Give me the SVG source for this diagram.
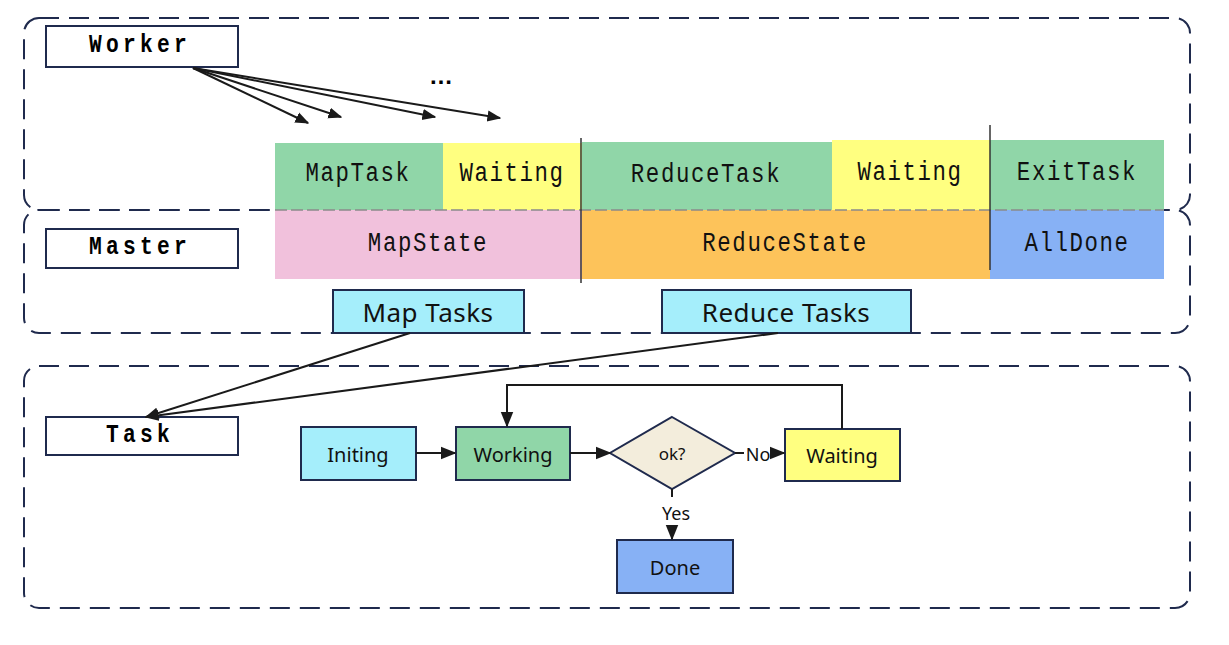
<svg xmlns="http://www.w3.org/2000/svg" width="1229" height="645" viewBox="0 0 1229 645">
<defs>
<style>
.cont{fill:none;stroke:#1f2a4d;stroke-width:2;stroke-dasharray:20 10}
.lbl{fill:#fff;stroke:#1f2a4d;stroke-width:2}
.lt{font-family:"Liberation Mono",monospace;font-weight:bold;font-size:25px;letter-spacing:5px;fill:#000;text-anchor:middle;dominant-baseline:central}
.bt{font-family:"Liberation Mono",monospace;font-size:28px;letter-spacing:2px;fill:#111;text-anchor:middle;dominant-baseline:central}
.ft{font-family:"Noto Sans","Open Sans",sans-serif;font-size:20px;fill:#111;text-anchor:middle;dominant-baseline:central}
.nd{stroke:#1f2a4d;stroke-width:2}
.cn{fill:none;stroke:#1a1a1a;stroke-width:2}
.vl{stroke:#333;stroke-width:1.5}
</style>
<marker id="ah" viewBox="0 0 10 10" refX="9" refY="5" markerWidth="14" markerHeight="14" markerUnits="userSpaceOnUse" orient="auto">
<path d="M0,1 L10,5 L0,9 z" fill="#1a1a1a"/>
</marker>
<marker id="ah2" viewBox="0 0 10 10" refX="9" refY="5" markerWidth="16" markerHeight="16" markerUnits="userSpaceOnUse" orient="auto">
<path d="M0,1 L10,5 L0,9 z" fill="#1a1a1a"/>
</marker>
</defs>
<rect width="1229" height="645" fill="#fff"/>

<g id="containers">
<rect class="cont" x="24" y="18" width="1166" height="192" rx="15"/>
<rect class="cont" x="24" y="210" width="1166" height="123" rx="15"/>
<rect class="cont" x="24" y="366" width="1166" height="242" rx="15"/>
</g>

<g id="worker"><rect class="lbl" x="46" y="26" width="192" height="41"/><text class="lt" transform="matrix(0.85,0,0,1,140,46)">Worker</text></g>
<g id="master"><rect class="lbl" x="46" y="229" width="192" height="39"/><text class="lt" transform="matrix(0.85,0,0,1,140,248)">Master</text></g>
<g id="task"><rect class="lbl" x="46" y="417" width="192" height="38"/><text class="lt" transform="matrix(0.85,0,0,1,140,436)">Task</text></g>

<g id="maptask"><rect x="275" y="143" width="168" height="67" fill="#90d6a8"/><text class="bt" transform="matrix(0.8,0,0,1,358,174)">MapTask</text></g>
<g id="waiting1"><rect x="443" y="143" width="139" height="67" fill="#ffff80"/><text class="bt" transform="matrix(0.8,0,0,1,512,174)">Waiting</text></g>
<g id="reducetask"><rect x="582" y="142" width="250" height="68" fill="#90d6a8"/><text class="bt" transform="matrix(0.8,0,0,1,706,175)">ReduceTask</text></g>
<g id="waiting2"><rect x="832" y="140" width="158" height="70" fill="#ffff80"/><text class="bt" transform="matrix(0.8,0,0,1,910,173)">Waiting</text></g>
<g id="exittask"><rect x="990" y="140" width="174" height="70" fill="#90d6a8"/><text class="bt" transform="matrix(0.8,0,0,1,1077,173)">ExitTask</text></g>

<g id="mapstate"><rect x="275" y="210" width="307" height="69" fill="#f1c1dc"/><text class="bt" transform="matrix(0.8,0,0,1,428,244)">MapState</text></g>
<g id="reducestate"><rect x="582" y="210" width="408" height="69" fill="#fdc35a"/><text class="bt" transform="matrix(0.8,0,0,1,785,244)">ReduceState</text></g>
<g id="alldone"><rect x="990" y="210" width="174" height="69" fill="#87b1f5"/><text class="bt" transform="matrix(0.8,0,0,1,1077,244)">AllDone</text></g>

<g id="dividers">
<line x1="275" y1="210" x2="1164" y2="210" stroke="#8a8a8a" stroke-width="1.5" stroke-dasharray="12 4"/>
<line class="vl" x1="581" y1="138" x2="581" y2="283"/>
<line class="vl" x1="990" y1="125" x2="990" y2="270"/>
</g>

<g id="maptasks"><rect class="nd" x="333" y="290" width="191" height="43" fill="#a5eefb"/><text class="ft" x="428" y="312" style="font-size:26px;letter-spacing:0.5px">Map Tasks</text></g>
<g id="reducetasks"><rect class="nd" x="662" y="290" width="249" height="43" fill="#a5eefb"/><text class="ft" x="786" y="312" style="font-size:26px;letter-spacing:0.5px">Reduce Tasks</text></g>

<g id="initing"><rect class="nd" x="301" y="427" width="115" height="53" fill="#a5eefb"/><text class="ft" x="358" y="454">Initing</text></g>
<g id="working"><rect class="nd" x="456" y="427" width="114" height="53" fill="#90d6a8"/><text class="ft" x="513" y="454">Working</text></g>
<g id="ok"><polygon class="nd" points="672,417 735,453 672,489 610,453" fill="#f3eddc"/><text class="ft" x="672" y="453" style="font-size:17px">ok?</text></g>
<g id="waiting3"><rect class="nd" x="785" y="429" width="115" height="52" fill="#ffff80"/><text class="ft" x="842" y="455">Waiting</text></g>
<g id="done"><rect class="nd" x="617" y="540" width="116" height="53" fill="#87b1f5"/><text class="ft" x="675" y="567">Done</text></g>

<g id="connectors">
<line class="cn" x1="193" y1="68" x2="308" y2="123" marker-end="url(#ah)"/>
<line class="cn" x1="193" y1="68" x2="341" y2="117" marker-end="url(#ah)"/>
<line class="cn" x1="193" y1="68" x2="435" y2="117" marker-end="url(#ah)"/>
<line class="cn" x1="193" y1="68" x2="500" y2="118" marker-end="url(#ah)"/>
<line class="cn" x1="410" y1="333" x2="146" y2="417" marker-end="url(#ah)"/>
<line class="cn" x1="778" y1="333" x2="146" y2="417" marker-end="url(#ah)"/>
<line class="cn" x1="416" y1="453" x2="455" y2="453" marker-end="url(#ah2)"/>
<line class="cn" x1="570" y1="453" x2="610" y2="453" marker-end="url(#ah2)"/>
<line class="cn" x1="735" y1="453" x2="744" y2="453"/>
<line class="cn" x1="772" y1="453" x2="784" y2="453" marker-end="url(#ah2)"/>
<polyline class="cn" points="842,429 842,385 507,385 507,426" marker-end="url(#ah2)"/>
<line class="cn" x1="672" y1="489" x2="672" y2="497"/>
<line class="cn" x1="672" y1="525" x2="672" y2="539" marker-end="url(#ah2)"/>
<text class="ft" x="758" y="454" style="font-size:18px">No</text>
<text class="ft" x="676" y="513" style="font-size:18px">Yes</text>
<text x="441" y="84" style="font-family:'Liberation Sans',sans-serif;font-size:24px;font-weight:bold;text-anchor:middle" fill="#000">…</text>
</g>
</svg>
